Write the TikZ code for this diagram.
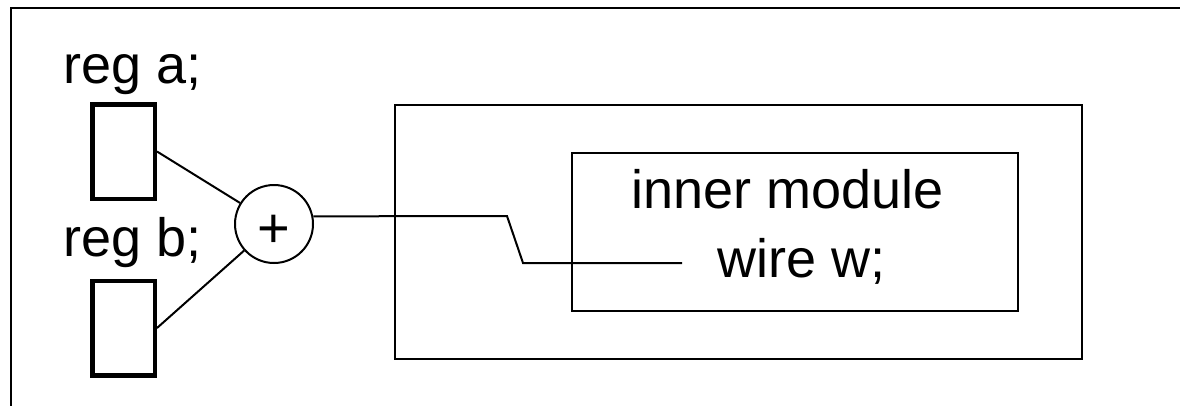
\documentclass[tikz,border=0pt]{standalone}
\usepackage{fontspec}
\setmainfont{Liberation Sans}
\begin{document}
\begin{tikzpicture}[x=1pt,y=-1pt,
  txt/.style={inner sep=0pt,anchor=base west,font=\fontsize{54}{64}\selectfont},
  regbox/.style={draw,line width=4.5pt,minimum width=62.5pt,minimum height=94.5pt,inner sep=0pt},
  modbox/.style={draw,line width=2pt,inner sep=0pt},
  wire/.style={line width=2pt}]
\useasboundingbox (0,0) rectangle (1180,405);
\clip (0,0) rectangle (1180,405);
% outer frame
\draw[line width=2pt] (11,420) -- (11,8) -- (1200,8);
% registers
\node[txt] (la) at (63.5,83) {reg a;};
\node[txt] (lb) at (63.5,256) {reg b;};
\node[regbox] (ra) at (123.5,151.5) {};
\node[regbox] (rb) at (123.5,328) {};
% adder
\node[draw,circle,line width=2pt,minimum size=78pt,inner sep=0pt] (sum) at (274,224) {};
\node[inner sep=0pt,anchor=base,font=\fontsize{56}{64}\selectfont] (plus) at ([yshift=-23pt]sum.center) {+};
\draw[wire] (ra.east) -- (sum);
\draw[wire] (rb.east) -- (sum);
% modules
\node[modbox,minimum width=687pt,minimum height=254pt] (outer) at (738.5,232) {};
\node[modbox,minimum width=446pt,minimum height=158pt] (inner) at (795,232) {};
\node[txt] (lin) at (631,208) {inner module};
\node[txt] (lw) at (717,277) {wire w;};
% wire
\coordinate (b1) at (507,216);
\coordinate (b2) at (523,263);
\coordinate (wend) at (682,263);
\draw[wire] (sum.11.5) -- (b1) -- (b2) -- (wend);
\end{tikzpicture}
\end{document}
